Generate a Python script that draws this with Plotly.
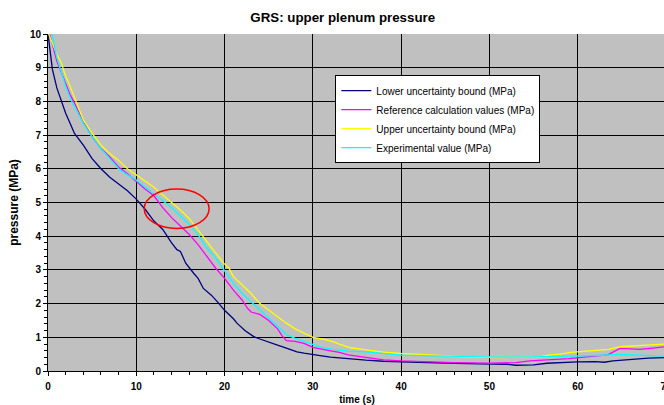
import plotly.graph_objects as go

# time (s) / pressure (MPa) samples for each series
t_lower = [0, 0.2, 0.5, 1.0, 1.5, 2.0, 2.5, 3.0, 4.0, 5.0, 6.0, 7.0, 8.0, 9.0, 10.0, 11.0, 12.0,
           13.0, 14.0, 14.6, 15.0, 15.6, 16.5, 17.0, 17.6, 18.5, 19.2, 20.0, 21.0, 21.4, 22.3,
           23.3, 24.0, 25.0, 26.0, 27.0, 28.2, 29.0, 30.0, 31.0, 32.0, 34.0, 36.0, 38.0, 40.0,
           43.0, 46.0, 49.0, 52.0, 53.0, 55.0, 56.5, 58.0, 60.0, 62.0, 63.0, 64.0, 66.0, 68.0, 70.0]
p_lower = [10.0, 9.5, 8.95, 8.4, 8.0, 7.65, 7.35, 7.05, 6.7, 6.3, 6.0, 5.75, 5.55, 5.35, 5.1, 4.8,
           4.45, 4.2, 3.8, 3.6, 3.55, 3.2, 2.9, 2.75, 2.45, 2.25, 2.05, 1.8, 1.55, 1.42, 1.2,
           1.02, 0.95, 0.87, 0.77, 0.68, 0.57, 0.53, 0.48, 0.45, 0.41, 0.36, 0.32, 0.29, 0.28,
           0.25, 0.23, 0.21, 0.2, 0.17, 0.18, 0.23, 0.25, 0.27, 0.28, 0.26, 0.3, 0.35, 0.38, 0.4]

t_ref = [0, 0.3, 1.0, 1.5, 2.0, 2.5, 3.0, 4.0, 5.0, 6.0, 7.0, 8.0, 9.0, 10.0, 11.0, 12.0, 13.0,
         14.0, 15.0, 16.0, 17.0, 18.0, 19.0, 20.0, 21.0, 22.0, 22.6, 23.0, 24.0, 25.0, 26.0,
         26.5, 27.0, 28.0, 29.0, 30.0, 31.0, 32.0, 33.0, 34.0, 35.0, 36.0, 37.0, 38.0, 40.0,
         43.0, 46.0, 50.0, 53.0, 54.6, 56.6, 59.0, 61.0, 63.4, 64.8, 66.0, 67.0, 68.5, 70.0]
p_ref = [10.1, 9.9, 9.2, 8.85, 8.5, 8.2, 7.95, 7.4, 6.95, 6.6, 6.35, 6.05, 5.85, 5.62, 5.4, 5.2,
         4.85, 4.55, 4.3, 4.05, 3.75, 3.4, 3.05, 2.75, 2.4, 2.1, 1.86, 1.75, 1.68, 1.5, 1.25,
         1.05, 0.9, 0.88, 0.82, 0.7, 0.64, 0.6, 0.55, 0.48, 0.44, 0.4, 0.36, 0.33, 0.3,
         0.27, 0.25, 0.23, 0.25, 0.3, 0.33, 0.37, 0.42, 0.48, 0.67, 0.66, 0.64, 0.68, 0.72]

t_upper = [0, 0.5, 1.0, 1.5, 2.0, 2.5, 3.0, 3.5, 4.0, 5.0, 6.0, 7.0, 8.0, 9.0, 10.0, 11.0, 12.0,
           13.0, 14.0, 15.0, 16.0, 17.0, 17.6, 18.4, 19.0, 19.9, 20.5, 21.0, 22.0, 23.0, 24.0,
           25.0, 26.0, 27.0, 28.0, 29.0, 30.0, 31.0, 32.3, 33.0, 34.3, 36.2, 38.0, 40.0, 43.7,
           47.5, 51.0, 55.8, 56.6, 58.0, 59.2, 61.0, 62.2, 63.5, 64.8, 66.0, 68.0, 70.0]
p_upper = [10.05, 9.7, 9.4, 9.15, 8.75, 8.45, 8.1, 7.8, 7.45, 7.05, 6.7, 6.45, 6.25, 6.0, 5.82,
           5.65, 5.45, 5.22, 5.0, 4.78, 4.52, 4.2, 3.98, 3.7, 3.5, 3.2, 3.05, 2.8, 2.55, 2.3,
           2.0, 1.8, 1.6, 1.42, 1.25, 1.12, 1.0, 0.95, 0.87, 0.8, 0.69, 0.62, 0.56, 0.52, 0.47,
           0.42, 0.4, 0.42, 0.47, 0.5, 0.55, 0.58, 0.62, 0.64, 0.72, 0.74, 0.78, 0.8]

t_exp = [0, 0.5, 1.0, 1.5, 2.0, 2.5, 3.0, 4.0, 5.0, 6.0, 7.0, 8.0, 9.0, 10.0, 11.0, 12.0, 13.0,
         14.0, 15.0, 16.0, 17.0, 18.0, 19.0, 20.0, 21.0, 22.0, 23.0, 24.0, 25.0, 26.0, 27.0,
         28.0, 29.0, 30.0, 31.0, 32.3, 34.0, 36.0, 38.0, 40.0, 43.7, 47.5, 51.0, 55.0, 58.0,
         60.0, 62.0, 64.8, 67.0, 70.0]
p_exp = [10.3, 9.95, 9.3, 8.85, 8.45, 8.1, 7.85, 7.35, 6.95, 6.6, 6.3, 6.0, 5.82, 5.67, 5.45,
         5.25, 5.05, 4.85, 4.6, 4.35, 4.05, 3.65, 3.35, 2.97, 2.6, 2.3, 2.05, 1.8, 1.57, 1.32,
         1.08, 0.97, 0.88, 0.77, 0.7, 0.64, 0.59, 0.57, 0.52, 0.47, 0.45, 0.42, 0.41, 0.42,
         0.43, 0.44, 0.46, 0.49, 0.46, 0.44]

series = [
    ("Lower uncertainty bound (MPa)", t_lower, p_lower, "#000080"),
    ("Reference calculation values (MPa)", t_ref, p_ref, "#FF00FF"),
    ("Upper uncertainty bound (MPa)", t_upper, p_upper, "#FFFF00"),
    ("Experimental value (MPa)", t_exp, p_exp, "#00FFFF"),
]

# highlighted region around the reference/experiment crossover
ring_t = [10.9, 18.25]
ring_p = [4.23, 5.40]

FONT = "Arial, Liberation Sans, sans-serif"

fig = go.Figure()
for name, t, p, color in series:
    fig.add_trace(go.Scatter(x=t, y=p, mode="lines", name=name,
                             line=dict(color=color, width=1.3)))

fig.add_shape(type="circle", xref="x", yref="y",
              x0=ring_t[0], x1=ring_t[1], y0=ring_p[0], y1=ring_p[1],
              line=dict(color="#FF0000", width=1.5))

axis_common = dict(
    showline=True, linecolor="black", linewidth=1, mirror=False,
    showgrid=True, gridcolor="black", gridwidth=1,
    ticks="outside", ticklen=4, tickcolor="black", tickwidth=1,
    tickfont=dict(family=FONT, size=10, color="black", weight="bold"),
    zeroline=False, automargin=False,
)

fig.update_layout(
    width=680, height=405,
    margin=dict(l=48, r=14, t=34, b=34),
    paper_bgcolor="white", plot_bgcolor="#C0C0C0",
    font=dict(family=FONT, color="black"),
    title=dict(text="<b>GRS: upper plenum pressure</b>", x=0.504, xanchor="center",
               y=0.958, yanchor="middle", yref="container",
               font=dict(family=FONT, size=13.3, color="black")),
    xaxis=dict(range=[0, 70], dtick=10, ticklabelstandoff=2,
               minor=dict(dtick=2, ticks="outside", ticklen=3, tickcolor="black", showgrid=False),
               title=dict(text="<b>time (s)</b>", standoff=6,
                          font=dict(family=FONT, size=10, color="black")),
               **axis_common),
    yaxis=dict(range=[0, 10], dtick=1,
               minor=dict(dtick=0.2, ticks="outside", ticklen=3, tickcolor="black", showgrid=False),
               title=dict(text="<b>pressure (MPa)</b>", standoff=8,
                          font=dict(family=FONT, size=12, color="black")),
               **axis_common),
    legend=dict(x=0.465, y=0.878, xanchor="left", yanchor="top",
                bgcolor="white", bordercolor="black", borderwidth=1,
                font=dict(family=FONT, size=10, color="black"),
                tracegroupgap=0, itemwidth=30),
    showlegend=True,
)

fig.write_html("out.html")
